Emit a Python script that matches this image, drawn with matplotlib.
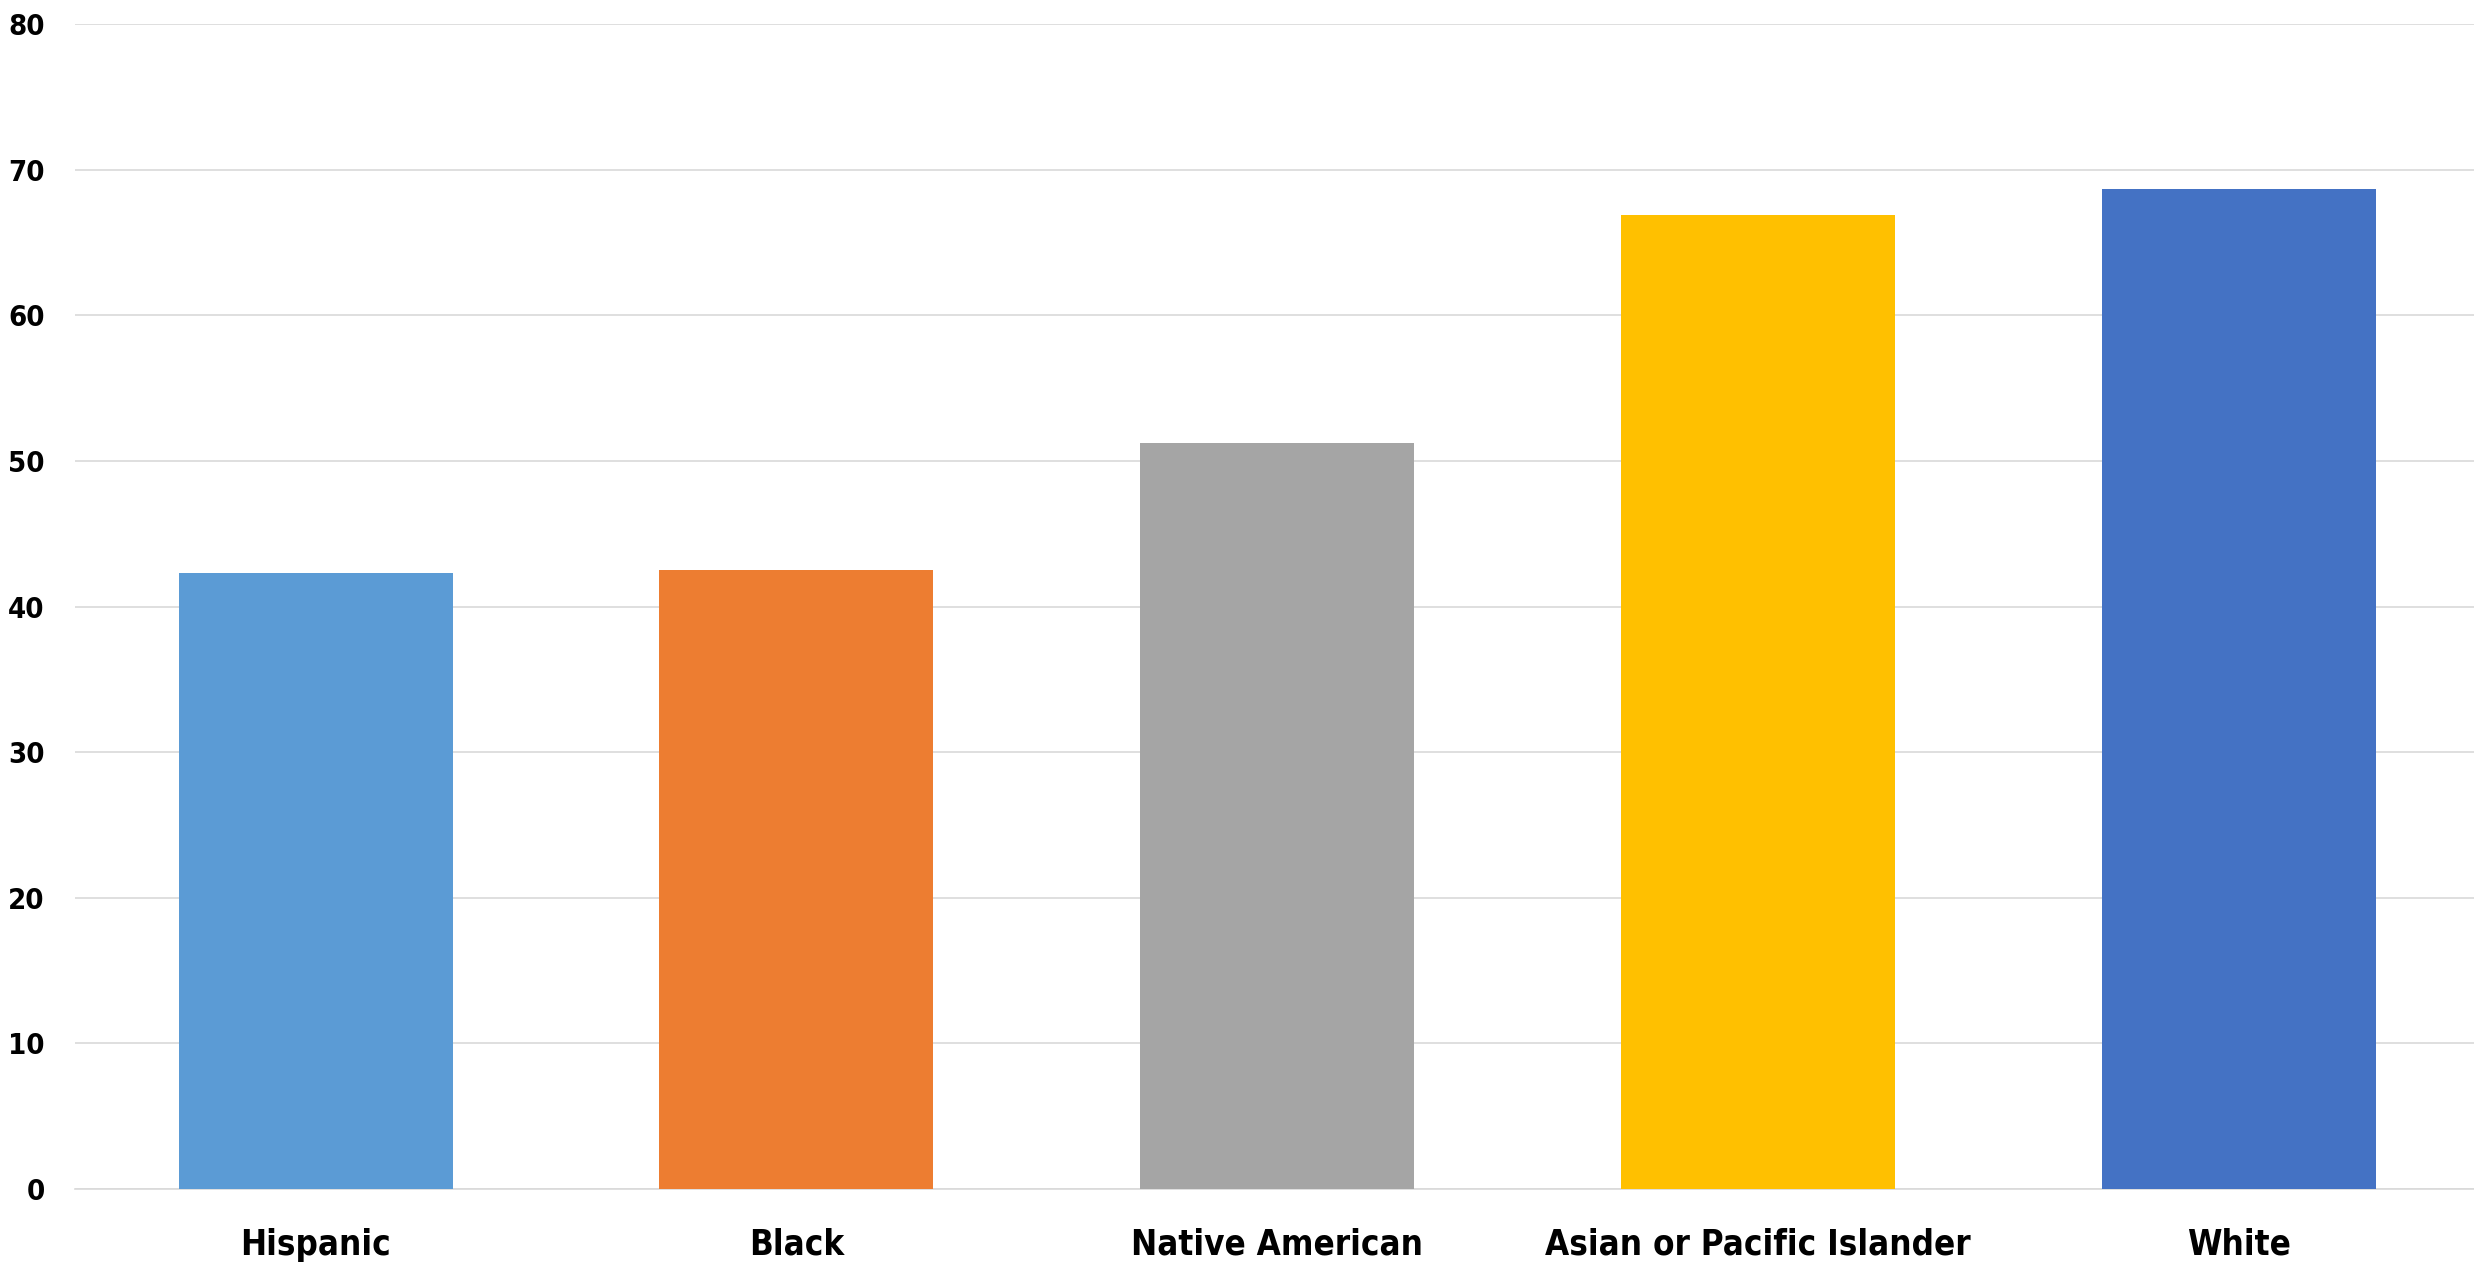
import matplotlib.pyplot as plt
from matplotlib import font_manager
from matplotlib.ticker import MultipleLocator

# data
groups = ['Hispanic', 'Black', 'Native American', 'Asian or Pacific Islander', 'White']
values = [42.3, 42.5, 51.2, 66.9, 68.7]
colors = ['#5B9BD5', '#ED7D31', '#A5A5A5', '#FFC000', '#4472C4']

# look for a narrow bold face (Calibri-like), else plain DejaVu
fp = font_manager.FontProperties(family='DejaVu Sans', weight='bold', stretch='condensed')
fname = font_manager.findfont(fp)
narrow = 'Condensed' in fname
if narrow:
    plt.rcParams['font.stretch'] = 'condensed'
plt.rcParams['font.family'] = ['DejaVu Sans']
plt.rcParams['font.weight'] = 'bold'
xsize = 25 if narrow else 22
ysize = 21 if narrow else 18

fig = plt.figure(figsize=(24.74, 12.65), dpi=100)
ax = fig.add_axes([75.2 / 2474, 76 / 1265, (2479 - 75.2) / 2474, (1189 - 24) / 1265])

x = range(len(groups))
ax.bar(x, values, width=0.57, color=colors, zorder=3)

ax.set_xlim(-0.5, len(groups) - 0.5)
ax.set_ylim(0, 80)
ax.yaxis.set_major_locator(MultipleLocator(10))
ax.grid(axis='y', color='#d9d9d9', linewidth=1.2, zorder=0)
ax.set_axisbelow(True)

for s in ['top', 'right', 'left']:
    ax.spines[s].set_visible(False)
ax.spines['bottom'].set_color('#d9d9d9')
ax.spines['bottom'].set_linewidth(1.2)

ax.set_xticks(list(x))
ax.set_xticklabels(groups, fontsize=xsize, fontweight='bold')
ax.tick_params(axis='x', length=0, pad=28)
ax.tick_params(axis='y', length=0, pad=22, labelsize=ysize)
for t in ax.get_yticklabels():
    t.set_fontweight('bold')

fig.savefig('out.png', dpi=100)
